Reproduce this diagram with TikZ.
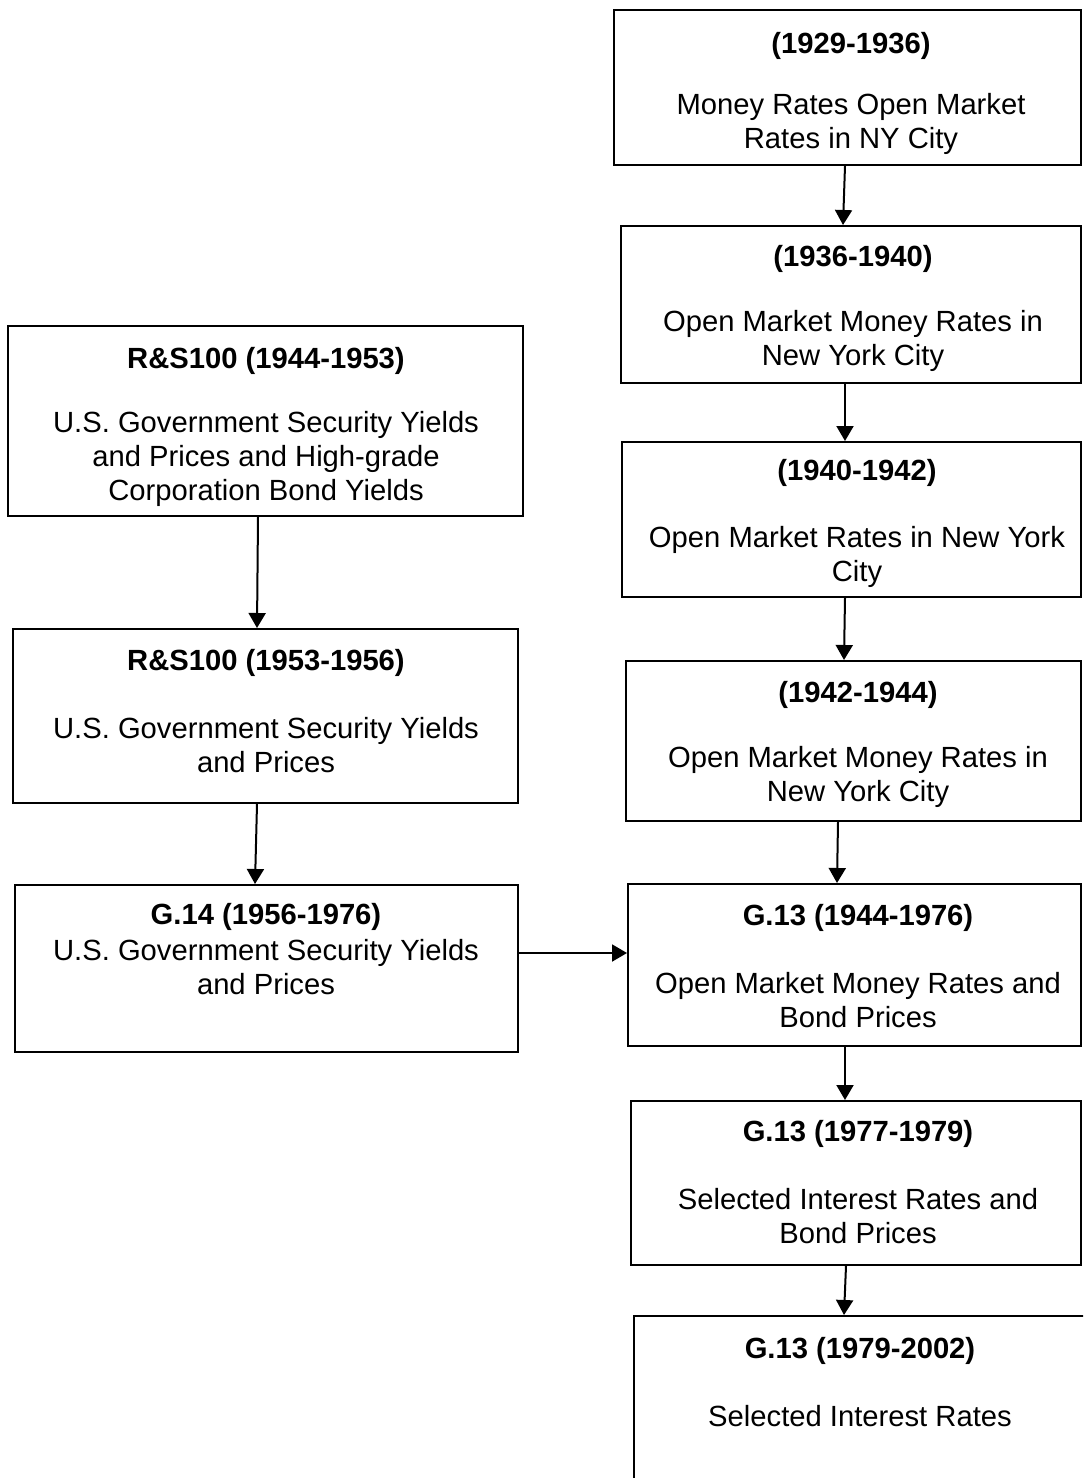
\documentclass[tikz,border=0pt]{standalone}
\usepackage{fontspec}
\setmainfont{Liberation Sans}
\usetikzlibrary{arrows.meta,calc}
\begin{document}
\begin{tikzpicture}[x=0.5pt,y=-0.5pt,
  box/.style={draw,line width=1pt,inner sep=0pt,rectangle},
  lbl/.style={inner sep=0pt,align=center,font=\fontsize{14.6}{17}\selectfont,yshift=-1.5pt},
  ttl/.style={inner sep=0pt,font=\fontsize{14.6}{17}\selectfont\bfseries,yshift=-1.5pt},
  arr/.style={line width=1pt,-{Triangle[length=7.5pt,width=8.5pt]}}]
\useasboundingbox (0,0) rectangle (1083,1478);
\clip (0,0) rectangle (1083,1478);
% right column boxes
\node[box,minimum width=233.5pt,minimum height=77.5pt] (b1) at (847.5,87.5) {};
\node[box,minimum width=230pt,minimum height=78.5pt] (b2) at (851,304.5) {};
\node[box,minimum width=229.5pt,minimum height=77.5pt] (b3) at (851.5,519.5) {};
\node[box,minimum width=227.5pt,minimum height=80pt] (b4) at (853.5,741) {};
\node[box,minimum width=226.5pt,minimum height=81pt] (b5) at (854.5,965) {};
\node[box,minimum width=225pt,minimum height=82pt] (b6) at (856,1183) {};
\node[box,minimum width=228pt,minimum height=92pt] (b7) at (862,1408) {};
% left column boxes
\node[box,minimum width=257.5pt,minimum height=95pt] (ba) at (265.5,421) {};
\node[box,minimum width=252.5pt,minimum height=87pt] (bb) at (265.5,716) {};
\node[box,minimum width=251.5pt,minimum height=83.5pt] (bc) at (266.5,968.5) {};
% texts
\node[ttl] (t1) at (851,43) {(1929-1936)};
\node[lbl] (l1) at (851,121) {Money Rates Open Market\\Rates in NY City};
\node[ttl] (t2) at (853,256) {(1936-1940)};
\node[lbl] (l2) at (853,338) {Open Market Money Rates in\\New York City};
\node[ttl] (t3) at (857,470) {(1940-1942)};
\node[lbl] (l3) at (857,553.5) {Open Market Rates in New York\\City};
\node[ttl] (t4) at (858,692) {(1942-1944)};
\node[lbl] (l4) at (858,774) {Open Market Money Rates in\\New York City};
\node[ttl] (t5) at (858,915) {G.13 (1944-1976)};
\node[lbl] (l5) at (858,997.5) {Open Market Money Rates and\\Bond Prices};
\node[ttl] (t6) at (858,1131) {G.13 (1977-1979)};
\node[lbl] (l6) at (858,1213.5) {Selected Interest Rates and\\Bond Prices};
\node[ttl] (t7) at (860,1348) {G.13 (1979-2002)};
\node[lbl] (l7) at (860,1413) {Selected Interest Rates};
\node[ttl] (ta) at (266,358) {R\&S100 (1944-1953)};
\node[lbl] (la) at (266,456) {U.S. Government Security Yields\\and Prices and High-grade\\Corporation Bond Yields};
\node[ttl] (tb) at (266,660) {R\&S100 (1953-1956)};
\node[lbl] (lb) at (266,742) {U.S. Government Security Yields\\and Prices};
\node[ttl] (tc) at (266,914) {G.14 (1956-1976)};
\node[lbl] (lc) at (266,964) {U.S. Government Security Yields\\and Prices};
% arrows
\draw[arr] ($(b1.south)+(-2.5,0)$) -- ($(b2.north)+(-8,0)$);
\draw[arr] ($(b2.south)+(-6,0)$) -- ($(b3.north)+(-6.5,0)$);
\draw[arr] ($(b3.south)+(-6.5,0)$) -- ($(b4.north)+(-9.5,0)$);
\draw[arr] ($(b4.south)+(-15.5,0)$) -- ($(b5.north)+(-17.5,0)$);
\draw[arr] ($(b5.south)+(-9.5,0)$) -- ($(b6.north)+(-11,0)$);
\draw[arr] ($(b6.south)+(-10,0)$) -- ($(b7.north)+(-18,0)$);
\draw[arr] ($(ba.south)+(-7.5,0)$) -- ($(bb.north)+(-8.5,0)$);
\draw[arr] ($(bb.south)+(-8.5,0)$) -- ($(bc.north)+(-11.5,0)$);
\draw[arr] ($(bc.east)+(0,-15.5)$) -- ($(b5.west)+(0,-12)$);
\end{tikzpicture}
\end{document}
